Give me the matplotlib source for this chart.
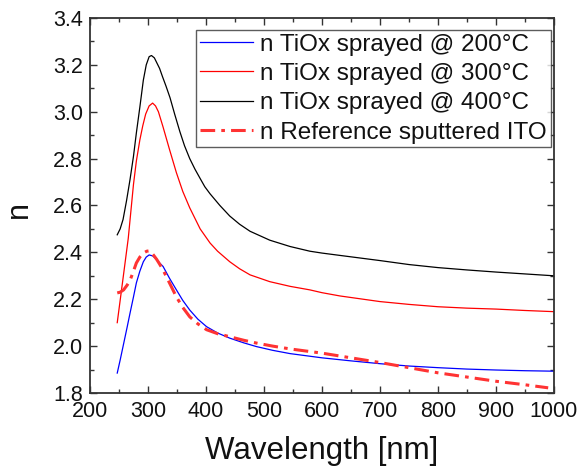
import matplotlib.pyplot as plt
from matplotlib.ticker import MultipleLocator

plt.rcParams["font.family"] = ["Liberation Sans", "DejaVu Sans"]

# n values
wl_200 = [247, 252, 258, 264, 269, 275, 280, 286, 292, 297, 302, 308, 315,
          320, 326, 337, 349, 360, 372, 386, 401, 420, 441, 465, 487, 515,
          545, 600, 650, 700, 750, 800, 850, 900, 950, 1000]
n_200 = [1.885, 1.94, 2.01, 2.08, 2.14, 2.21, 2.27, 2.32, 2.36, 2.38, 2.389,
         2.385, 2.37, 2.355, 2.34, 2.29, 2.24, 2.195, 2.154, 2.115, 2.083,
         2.056, 2.034, 2.014, 1.998, 1.982, 1.968, 1.950, 1.937, 1.925, 1.915,
         1.908, 1.902, 1.898, 1.895, 1.893]

wl_300 = [247, 256, 266, 275, 280, 286, 291, 296, 302, 308, 313, 318, 326,
          337, 349, 360, 372, 390, 407, 420, 441, 458, 476, 510, 545, 579,
          600, 631, 700, 750, 800, 850, 900, 950, 1000]
n_300 = [2.10, 2.27, 2.46, 2.69, 2.79, 2.88, 2.94, 2.99, 3.025, 3.037, 3.025,
         3.00, 2.935, 2.84, 2.74, 2.66, 2.59, 2.50, 2.44, 2.405, 2.36, 2.33,
         2.304, 2.275, 2.255, 2.24, 2.228, 2.214, 2.19, 2.178, 2.168, 2.162,
         2.158, 2.152, 2.147]

wl_400 = [247, 252, 257, 263, 269, 275, 280, 286, 292, 297, 302, 306, 311,
          315, 320, 325, 331, 338, 346, 355, 363, 372, 381, 390, 398, 407,
          424, 441, 458, 476, 510, 545, 579, 600, 631, 700, 750, 800, 850,
          900, 950, 1000]
n_400 = [2.475, 2.50, 2.54, 2.62, 2.71, 2.81, 2.91, 3.02, 3.135, 3.20, 3.235,
         3.24, 3.23, 3.21, 3.185, 3.15, 3.11, 3.06, 2.99, 2.915, 2.855, 2.80,
         2.755, 2.715, 2.68, 2.65, 2.60, 2.555, 2.52, 2.49, 2.452, 2.425,
         2.405, 2.397, 2.387, 2.365, 2.348, 2.335, 2.325, 2.316, 2.308, 2.30]

wl_ito = [247, 252, 258, 264, 269, 275, 280, 286, 292, 298, 303, 309, 315,
          320, 326, 337, 349, 360, 372, 386, 401, 420, 441, 465, 487, 515,
          545, 600, 650, 700, 750, 800, 850, 900, 950, 990]
n_ito = [2.227, 2.23, 2.24, 2.26, 2.28, 2.32, 2.355, 2.38, 2.397, 2.405,
         2.407, 2.39, 2.37, 2.35, 2.325, 2.27, 2.21, 2.165, 2.125, 2.095, 2.07,
         2.053, 2.04, 2.025, 2.013, 2.0, 1.988, 1.97, 1.95, 1.93, 1.908, 1.886,
         1.868, 1.85, 1.835, 1.822]


def main() -> None:
    fig = plt.figure(figsize=(5.79, 4.68), dpi=100)
    ax = fig.add_axes([0.1554, 0.1603, 0.8014, 0.8012])

    ax.plot(wl_200, n_200, color="#0000ff", linewidth=0.9,
            label="n TiOx sprayed @ 200°C")
    ax.plot(wl_300, n_300, color="#ff0000", linewidth=0.9,
            label="n TiOx sprayed @ 300°C")
    ax.plot(wl_400, n_400, color="#000000", linewidth=0.9,
            label="n TiOx sprayed @ 400°C")
    ax.plot(wl_ito, n_ito, color="#ff3333", linewidth=2.2,
            dashes=(4.8, 2, 1.2, 2), label="n Reference sputtered ITO")

    ax.set_xlim(200, 1000)
    ax.set_ylim(1.8, 3.4)
    ax.xaxis.set_major_locator(MultipleLocator(100))
    ax.xaxis.set_minor_locator(MultipleLocator(50))
    ax.yaxis.set_major_locator(MultipleLocator(0.2))
    ax.yaxis.set_minor_locator(MultipleLocator(0.1))
    ax.yaxis.set_major_formatter(lambda v, pos: f"{v:.1f}")

    ax.tick_params(which="both", direction="in", top=True, right=True,
                   colors="#333333", labelcolor="#111111", labelsize=15.5)
    ax.tick_params(which="major", length=5, width=1)
    ax.tick_params(which="minor", length=3, width=1)
    ax.tick_params(axis="x", pad=6)
    ax.tick_params(axis="y", pad=5)
    for spine in ax.spines.values():
        spine.set_color("#333333")
        spine.set_linewidth(1.3)

    ax.set_xlabel("Wavelength [nm]", fontsize=22.5, labelpad=10,
                  color="#111111")
    ax.set_ylabel("n", fontsize=22, color="#111111")
    ax.yaxis.set_label_coords(-0.12, 0.49)

    leg = ax.legend(loc="upper right", fontsize=17.5, frameon=True,
                    fancybox=False, edgecolor="#333333", handlelength=2.2,
                    handletextpad=0.3, borderpad=0.15, labelspacing=0.3,
                    borderaxespad=0.0, bbox_to_anchor=(0.993, 0.968))
    leg.get_frame().set_linewidth(1.0)
    for text in leg.get_texts():
        text.set_color("#111111")

    fig.savefig("out.png", dpi=100)
    plt.close(fig)


if __name__ == "__main__":
    main()
